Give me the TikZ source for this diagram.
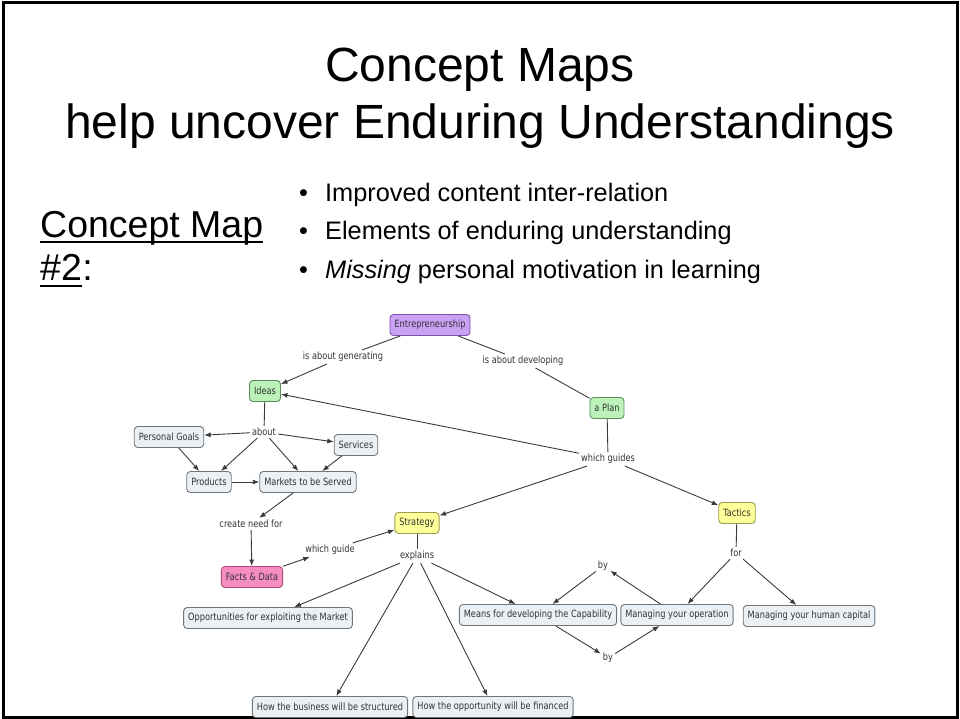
\documentclass[tikz,border=0pt]{standalone}
\usepackage{fontspec}
\setmainfont{Liberation Sans}
\newfontfamily\cmapfont[FakeStretch=0.82]{DejaVu Sans}
\usetikzlibrary{arrows.meta}

\definecolor{linkgray}{HTML}{3A3A3A}
\definecolor{boxfill}{HTML}{EAF0F4}
\definecolor{boxline}{HTML}{6E767C}
\definecolor{purplefill}{HTML}{C9A2F4}
\definecolor{purpleline}{HTML}{7A50B0}
\definecolor{greenfill}{HTML}{BAF2BA}
\definecolor{greenline}{HTML}{5C8C5C}
\definecolor{yellowfill}{HTML}{FFFF99}
\definecolor{yellowline}{HTML}{9C9C50}
\definecolor{pinkfill}{HTML}{F58CC2}
\definecolor{pinkline}{HTML}{B04878}

\tikzset{
  concept/.style={draw=boxline, fill=boxfill, line width=0.9pt, rounded corners=3.5pt,
    font=\cmapfont\fontsize{10}{12}\selectfont, text=black!80,
    inner xsep=4.5pt, minimum height=21pt},
  purplebox/.style={concept, draw=purpleline, fill=purplefill},
  greenbox/.style={concept, draw=greenline, fill=greenfill},
  yellowbox/.style={concept, draw=yellowline, fill=yellowfill},
  pinkbox/.style={concept, draw=pinkline, fill=pinkfill},
  linkphrase/.style={font=\cmapfont\fontsize{10}{12}\selectfont, text=black!80, inner sep=2pt},
  ln/.style={draw=linkgray, line width=0.9pt},
  arr/.style={ln, -{Latex[length=6.5pt,width=5pt]}},
  titletext/.style={font=\fontsize{48}{57}\selectfont, inner sep=0pt, anchor=base},
  bullettext/.style={font=\fontsize{25.3}{30}\selectfont, inner sep=0pt, anchor=base west},
  sidetext/.style={font=\fontsize{37.5}{44}\selectfont, inner sep=0pt, anchor=base west},
}

\begin{document}
\begin{tikzpicture}[x=1pt, y=-1pt]
\useasboundingbox (0,0) rectangle (960,719);
% slide frame
\draw[line width=3pt] (3.5,2.5) rectangle (957.5,717);

% title
\node[titletext] (t1) at (480,82) {Concept Maps};
\node[titletext] (t2) at (480,139) {help uncover Enduring Understandings};

% side heading
\node[sidetext] (cm) at (40,237) {Concept Map};
\draw[line width=2.6pt] ([yshift=-5pt]cm.base west) -- ([yshift=-5pt]cm.base east);
\node[sidetext] (num) at (40,280) {\#2};
\node[sidetext] (colon) at (num.base east) {:};
\draw[line width=2.6pt] ([yshift=-6pt]num.base west) -- ([yshift=-6pt]num.base east);

% bullet list
\foreach \yy/\nm in {202/b1, 240/b2, 278/b3}
  \node[bullettext] (\nm) at (299,\yy) {•};
\node[bullettext] (i1) at (325,202) {Improved content inter-relation};
\node[bullettext] (i2) at (325,240) {Elements of enduring understanding};
\node[bullettext] (i3) at (325,278) {\textit{Missing} personal motivation in learning};

% concept map: concepts
\node[purplebox] (ent) at (430,325) {Entrepreneurship};
\node[greenbox]  (ideas) at (265,391) {Ideas};
\node[greenbox]  (plan) at (607,408) {a Plan};
\node[concept]   (pg) at (169,437) {Personal Goals};
\node[concept]   (serv) at (356,445) {Services};
\node[concept]   (prod) at (209,482) {Products};
\node[concept]   (mkt) at (308,482) {Markets to be Served};
\node[pinkbox]   (facts) at (252,577) {Facts \& Data};
\node[yellowbox] (strat) at (417,523) {Strategy};
\node[yellowbox] (tact) at (737,513) {Tactics};
\node[concept]   (opp) at (268,618) {Opportunities for exploiting the Market};
\node[concept]   (means) at (538,615) {Means for developing the Capability};
\node[concept]   (mop) at (677,615) {Managing your operation};
\node[concept]   (mhc) at (809,616) {Managing your human capital};
\node[concept]   (hbs) at (330,707) {How the business will be structured};
\node[concept]   (hof) at (493,707) {How the opportunity will be financed};

% concept map: linking phrases
\node[linkphrase] (lgen) at (343,357) {is about generating};
\node[linkphrase] (ldev) at (523,361) {is about developing};
\node[linkphrase] (lwgs) at (608,459) {which guides};
\node[linkphrase] (labout) at (264,432) {about};
\node[linkphrase] (lcnf) at (251,524) {create need for};
\node[linkphrase] (lwg) at (330,550) {which guide};
\node[linkphrase] (lexp) at (417,556) {explains};
\node[linkphrase] (lfor) at (736,553) {for};
\node[linkphrase] (lby1) at (603,566) {by};
\node[linkphrase] (lby2) at (608,658) {by};

% concept map: connections
\draw[ln]  (ent) -- (lgen);
\draw[arr] (lgen) -- (ideas);
\draw[ln]  (ent) -- (ldev);
\draw[ln]  (ldev) -- (plan);
\draw[ln]  (plan) -- (lwgs);
\draw[arr] (lwgs) -- (ideas);
\draw[arr] (lwgs) -- (strat);
\draw[arr] (lwgs) -- (tact);
\draw[ln]  (ideas) -- (labout);
\draw[arr] (labout) -- (pg);
\draw[arr] (labout) -- (serv);
\draw[arr] (labout) -- (prod);
\draw[arr] (labout) -- (mkt);
\draw[arr] (pg) -- (prod);
\draw[arr] (serv) -- (mkt);
\draw[arr] (prod) -- (mkt);
\draw[arr] (mkt) -- (lcnf);
\draw[arr] (lcnf) -- (facts);
\draw[arr] (facts) -- (lwg);
\draw[arr] (lwg) -- (strat);
\draw[ln]  (strat) -- (lexp);
\draw[arr] (lexp) -- (opp);
\draw[arr] (lexp) -- (hbs);
\draw[arr] (lexp) -- (hof);
\draw[arr] (lexp) -- (means);
\draw[ln]  (tact) -- (lfor);
\draw[arr] (lfor) -- (mop);
\draw[arr] (lfor) -- (mhc);
\draw[arr] (mop) -- (lby1);
\draw[arr] (lby1) -- (means);
\draw[arr] (means) -- (lby2);
\draw[arr] (lby2) -- (mop);
\end{tikzpicture}
\end{document}
